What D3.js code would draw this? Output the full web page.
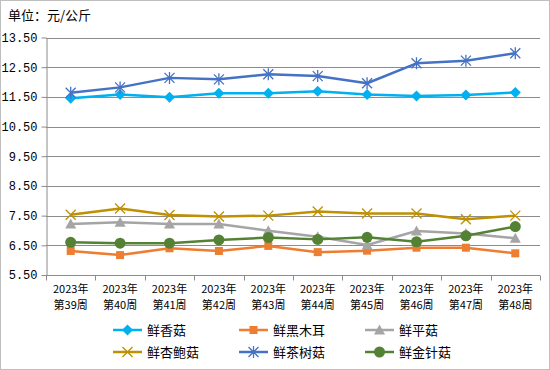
<!DOCTYPE html>
<html>
<head>
<meta charset="utf-8">
<script src="https://cdn.jsdelivr.net/npm/d3@7"></script>
<style>
  html, body { margin: 0; padding: 0; background: #fff; }
  svg { display: block; font-family: "Noto Sans CJK SC", "DejaVu Sans", sans-serif; }
</style>
</head>
<body>
<svg id="chart" width="550" height="370"></svg>
<script>
const weeks = ["第39周", "第40周", "第41周", "第42周", "第43周", "第44周", "第45周", "第46周", "第47周", "第48周"];
const yearLabel = "2023年";
const yTicks = [5.5, 6.5, 7.5, 8.5, 9.5, 10.5, 11.5, 12.5, 13.5];

const xiangGu = [11.45, 11.58, 11.49, 11.62, 11.62, 11.69, 11.58, 11.53, 11.56, 11.65];
const heiMuEr = [6.31, 6.17, 6.40, 6.31, 6.48, 6.27, 6.32, 6.42, 6.42, 6.23];
const pingGu = [7.22, 7.28, 7.22, 7.22, 6.99, 6.79, 6.51, 6.98, 6.90, 6.74];
const xingBaoGu = [7.53, 7.74, 7.52, 7.47, 7.50, 7.64, 7.57, 7.57, 7.38, 7.50];
const chaShuGu = [11.64, 11.82, 12.14, 12.09, 12.26, 12.20, 11.96, 12.63, 12.72, 12.97];
const jinZhenGu = [6.60, 6.57, 6.57, 6.68, 6.76, 6.70, 6.77, 6.62, 6.82, 7.13];

const series = [
  { name: "鲜香菇", values: xiangGu, color: "#00b0f0", marker: "diamond" },
  { name: "鲜黑木耳", values: heiMuEr, color: "#ed7d31", marker: "square" },
  { name: "鲜平菇", values: pingGu, color: "#a5a5a5", marker: "triangle" },
  { name: "鲜杏鲍菇", values: xingBaoGu, color: "#bf9000", marker: "x" },
  { name: "鲜茶树菇", values: chaShuGu, color: "#4472c4", marker: "star" },
  { name: "鲜金针菇", values: jinZhenGu, color: "#548235", marker: "circle" },
];

const svg = d3.select("#chart");
const width = 550, height = 370;
const margin = { left: 46, right: 10, top: 37.5, bottom: 95 };

// outer border
svg.append("rect")
  .attr("x", 0.5).attr("y", 0.5)
  .attr("width", width - 1).attr("height", height - 1)
  .attr("fill", "#fff").attr("stroke", "#bfbfbf");

svg.append("text")
  .attr("x", 8).attr("y", 20)
  .attr("font-size", 13)
  .attr("fill", "#000")
  .text("单位：元/公斤");

const x = d3.scaleBand()
  .domain(weeks)
  .range([margin.left, width - margin.right]);

const y = d3.scaleLinear()
  .domain([5.5, 13.5])
  .range([height - margin.bottom, margin.top]);

// gridlines
svg.append("g")
  .selectAll("line")
  .data(yTicks.slice(1))
  .join("line")
  .attr("x1", margin.left).attr("x2", width - margin.right)
  .attr("y1", (d) => Math.round(y(d)) + 0.5)
  .attr("y2", (d) => Math.round(y(d)) + 0.5)
  .attr("stroke", "#8c8c8c");

// y axis
const yAxis = svg.append("g")
  .attr("transform", `translate(${margin.left + 0.5},0)`)
  .call(d3.axisLeft(y).tickValues(yTicks).tickFormat(d3.format(".2f")).tickSize(5).tickSizeOuter(0));
yAxis.select(".domain").attr("stroke", "#8c8c8c");
yAxis.selectAll(".tick line").attr("stroke", "#8c8c8c");
yAxis.selectAll(".tick text")
  .attr("x", -9)
  .attr("font-size", 12)
  .attr("font-family", "\"Liberation Mono\", monospace")
  .attr("fill", "#000");

// x axis
const xAxisY = Math.round(y(5.5)) + 0.5;
const xAxis = svg.append("g").attr("transform", `translate(0,${xAxisY})`);
xAxis.append("line")
  .attr("x1", margin.left).attr("x2", width - margin.right)
  .attr("stroke", "#8c8c8c");
const tickXs = weeks.map((w) => x(w)).concat([width - margin.right]);
xAxis.selectAll(".xtick")
  .data(tickXs)
  .join("line")
  .attr("class", "xtick")
  .attr("x1", (d) => Math.round(d) + 0.5).attr("x2", (d) => Math.round(d) + 0.5)
  .attr("y1", 0).attr("y2", 5)
  .attr("stroke", "#8c8c8c");
xAxis.selectAll(".xyear")
  .data(weeks)
  .join("text")
  .attr("class", "xyear")
  .attr("text-anchor", "middle")
  .attr("font-size", 11)
  .attr("fill", "#000")
  .attr("x", (d) => x(d) + x.bandwidth() / 2)
  .attr("y", 17)
  .text(yearLabel);
xAxis.selectAll(".xweek")
  .data(weeks)
  .join("text")
  .attr("class", "xweek")
  .attr("text-anchor", "middle")
  .attr("font-size", 11)
  .attr("fill", "#000")
  .attr("x", (d) => x(d) + x.bandwidth() / 2)
  .attr("y", 33.5)
  .text((d) => d);

function drawMarker(g, type, color) {
  if (type === "diamond") {
    g.append("path").attr("d", "M0,-5.5L5.5,0L0,5.5L-5.5,0Z").attr("fill", color);
  } else if (type === "square") {
    g.append("rect").attr("x", -4).attr("y", -4).attr("width", 8).attr("height", 8).attr("fill", color);
  } else if (type === "triangle") {
    g.append("path").attr("d", "M0,-5.5L5.5,4.5L-5.5,4.5Z").attr("fill", color);
  } else if (type === "x") {
    g.append("path").attr("d", "M-5,-5L5,5M-5,5L5,-5").attr("stroke", color).attr("stroke-width", 1.3);
  } else if (type === "star") {
    g.append("path").attr("d", "M-5,-5L5,5M-5,5L5,-5M0,-6L0,6").attr("stroke", color).attr("stroke-width", 1.3);
  } else if (type === "circle") {
    g.append("circle").attr("r", 5.5).attr("fill", color);
  }
}

const line = d3.line()
  .x((d, i) => x(weeks[i]) + x.bandwidth() / 2)
  .y((d) => y(d));

const plot = svg.append("g");
series.forEach((s) => {
  const g = plot.append("g");
  g.append("path")
    .datum(s.values)
    .attr("d", line)
    .attr("fill", "none")
    .attr("stroke", s.color)
    .attr("stroke-width", 2.5)
    .attr("stroke-linejoin", "round");
  s.values.forEach((v, i) => {
    const m = g.append("g")
      .attr("transform", `translate(${x(weeks[i]) + x.bandwidth() / 2},${y(v)})`);
    drawMarker(m, s.marker, s.color);
  });
});

// legend
const legendCols = [113, 239, 365];
const legendRows = [330, 352];
const legend = svg.append("g");
series.forEach((s, i) => {
  const lx = legendCols[i % 3];
  const ly = legendRows[Math.floor(i / 3)];
  const g = legend.append("g").attr("transform", `translate(${lx},${ly})`);
  g.append("line")
    .attr("x1", 0).attr("x2", 29)
    .attr("stroke", s.color).attr("stroke-width", 2.5);
  const m = g.append("g").attr("transform", "translate(14.5,0)");
  drawMarker(m, s.marker, s.color);
  g.append("text")
    .attr("x", 34).attr("y", 0)
    .attr("dy", "0.35em")
    .attr("font-size", 13)
    .attr("fill", "#000")
    .text(s.name);
});
</script>
</body>
</html>
